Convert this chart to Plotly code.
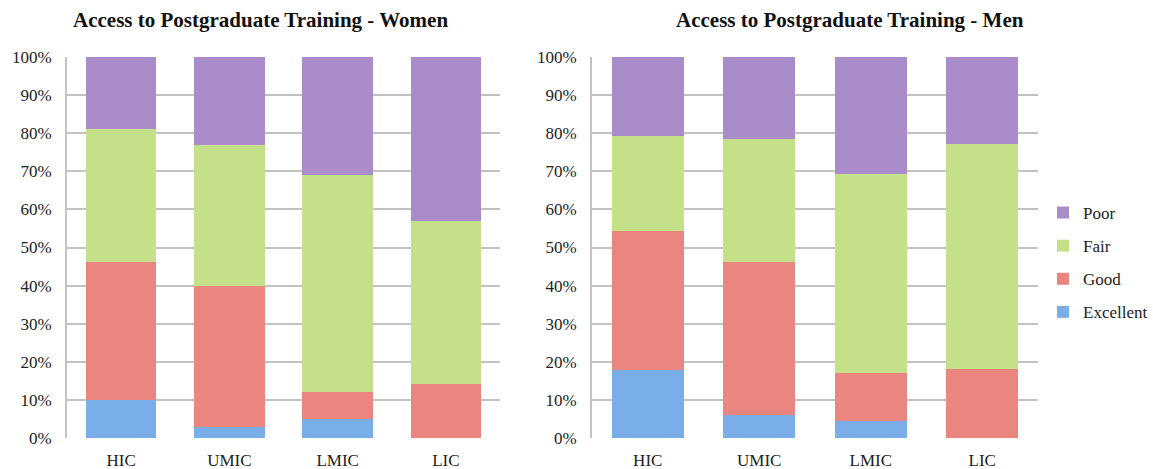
import plotly.graph_objects as go
from plotly.subplots import make_subplots

# Income-group categories and rating shares (percent of respondents)
categories = ["HIC", "UMIC", "LMIC", "LIC"]
ratings = ["Excellent", "Good", "Fair", "Poor"]

women_excellent = [10.0, 3.0, 5.0, 0.0]
women_good = [36.3, 37.0, 7.0, 14.2]
women_fair = [34.7, 36.8, 57.0, 42.8]
women_poor = [19.0, 23.2, 31.0, 43.0]

men_excellent = [17.8, 6.0, 4.5, 0.0]
men_good = [36.6, 40.1, 12.5, 18.1]
men_fair = [24.9, 32.4, 52.2, 59.1]
men_poor = [20.7, 21.5, 30.8, 22.8]

y_ticks = [0, 10, 20, 30, 40, 50, 60, 70, 80, 90, 100]
y_tick_labels = [f"{v}%" for v in y_ticks]

colors = {
    "Excellent": "#7aaee8",
    "Good": "#ea8580",
    "Fair": "#c4e189",
    "Poor": "#aa8ccb",
}

women = {"Excellent": women_excellent, "Good": women_good,
         "Fair": women_fair, "Poor": women_poor}
men = {"Excellent": men_excellent, "Good": men_good,
       "Fair": men_fair, "Poor": men_poor}

fig = make_subplots(rows=1, cols=2)

# legend lists the top segment first
n = len(ratings)
for col, data in ((1, women), (2, men)):
    for i, r in enumerate(ratings):
        fig.add_trace(
            go.Bar(
                x=categories,
                y=data[r],
                name=r,
                legendgroup=r,
                legendrank=n - i,
                showlegend=(col == 2),
                marker=dict(color=colors[r], line=dict(width=0)),
            ),
            row=1, col=col,
        )

serif = "Liberation Serif, Times New Roman, serif"
grid = "#c2c2c2"
text_color = "#222222"
W, H = 1153, 469

fig.update_layout(
    width=W, height=H,
    barmode="stack", bargap=0.35,
    plot_bgcolor="white", paper_bgcolor="white",
    margin=dict(l=0, r=0, t=0, b=0, autoexpand=False),
    font=dict(family=serif, size=17, color=text_color),
    legend=dict(
        x=1043 / W, y=1 - 195 / H, xanchor="left", yanchor="top",
        traceorder="grouped", tracegroupgap=8,
        font=dict(family=serif, size=17, color=text_color),
        itemwidth=30,
    ),
    annotations=[
        dict(text="<b>Access to Postgraduate Training - Women</b>",
             x=260 / W, y=1 - 20 / H, xref="paper", yref="paper",
             xanchor="center", yanchor="middle",
             showarrow=False, font=dict(family=serif, size=21, color="#111111")),
        dict(text="<b>Access to Postgraduate Training - Men</b>",
             x=850 / W, y=1 - 20 / H, xref="paper", yref="paper",
             xanchor="center", yanchor="middle",
             showarrow=False, font=dict(family=serif, size=21, color="#111111")),
    ],
)

ydom = [(H - 438) / H, (H - 57) / H]
fig.update_xaxes(domain=[67 / W, 500 / W], row=1, col=1)
fig.update_xaxes(domain=[592 / W, 1038 / W], row=1, col=2)
fig.update_xaxes(showgrid=False, ticks="", showline=False, automargin=False,
                 ticklabelstandoff=10,
                 tickfont=dict(family=serif, size=17, color=text_color))
fig.update_yaxes(
    domain=ydom, range=[0, 100], tickvals=y_ticks, ticktext=y_tick_labels,
    showgrid=True, gridcolor=grid, gridwidth=1.8, zeroline=False,
    showline=True, linecolor=grid, linewidth=1.8, ticks="", automargin=False,
    ticklabelstandoff=10,
    tickfont=dict(family=serif, size=17, color=text_color),
)

fig.write_html("out.html")
